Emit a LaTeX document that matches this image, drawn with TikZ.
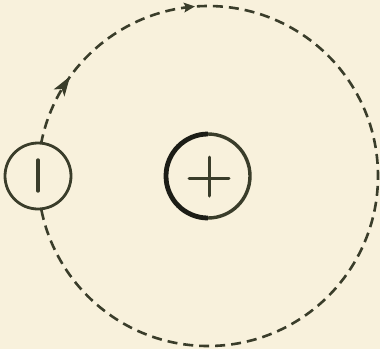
\documentclass[tikz,border=0pt]{standalone}
\usetikzlibrary{arrows.meta,decorations.markings}
\definecolor{bg}{HTML}{F8F1DC}
\definecolor{ink}{HTML}{3A3D2A}
\definecolor{inkdark}{HTML}{1C1D16}
\tikzset{
  orbit/.style={draw=ink, line width=2.6pt, dash pattern=on 10pt off 6pt},
  particle/.style={circle, draw=ink, line width=2.8pt, fill=bg, minimum size=66pt, inner sep=0pt},
  nucleus/.style={circle, draw=none, minimum size=84pt, inner sep=0pt},
  sign/.style={draw=ink, line width=3pt, line cap=round},
}
\begin{document}
\begin{tikzpicture}[x=1pt,y=-1pt]
\fill[bg] (0,0) rectangle (380,349);
\useasboundingbox (0,0) rectangle (380,349);
\coordinate (c) at (208,176);
\coordinate (s) at (38,176);
% orbit
\draw[orbit, postaction={decorate}, decoration={markings,
   mark=at position 0.093 with {\fill[ink] (7pt,0pt) -- (-13pt,6.5pt) -- (-8pt,0pt) -- (-13pt,-6.5pt) -- cycle;},
   mark=at position 0.233 with {\fill[ink] (5pt,0pt) -- (-6pt,5pt) -- (-4pt,0pt) -- (-6pt,-5pt) -- cycle;}}]
  (s) arc[start angle=180, end angle=540, radius=170];
% electron
\node[particle] (e) at (s) {};
\draw[sign, line width=3.4pt] ([yshift=-15pt]e.center) -- ([yshift=16pt]e.center);
% nucleus
\node[nucleus] (p) at (c) {};
\draw[draw=inkdark, line width=4.8pt] ([yshift=42pt]p.center) arc[start angle=90, end angle=270, radius=42pt];
\draw[draw=ink, line width=3.4pt] ([yshift=-42pt]p.center) arc[start angle=-90, end angle=90, radius=42pt];
\draw[sign] ([xshift=-19pt,yshift=-2pt]p.center) -- ([xshift=21pt,yshift=-2pt]p.center);
\draw[sign] ([xshift=1pt,yshift=-20pt]p.center) -- ([xshift=1pt,yshift=19pt]p.center);
\end{tikzpicture}
\end{document}
